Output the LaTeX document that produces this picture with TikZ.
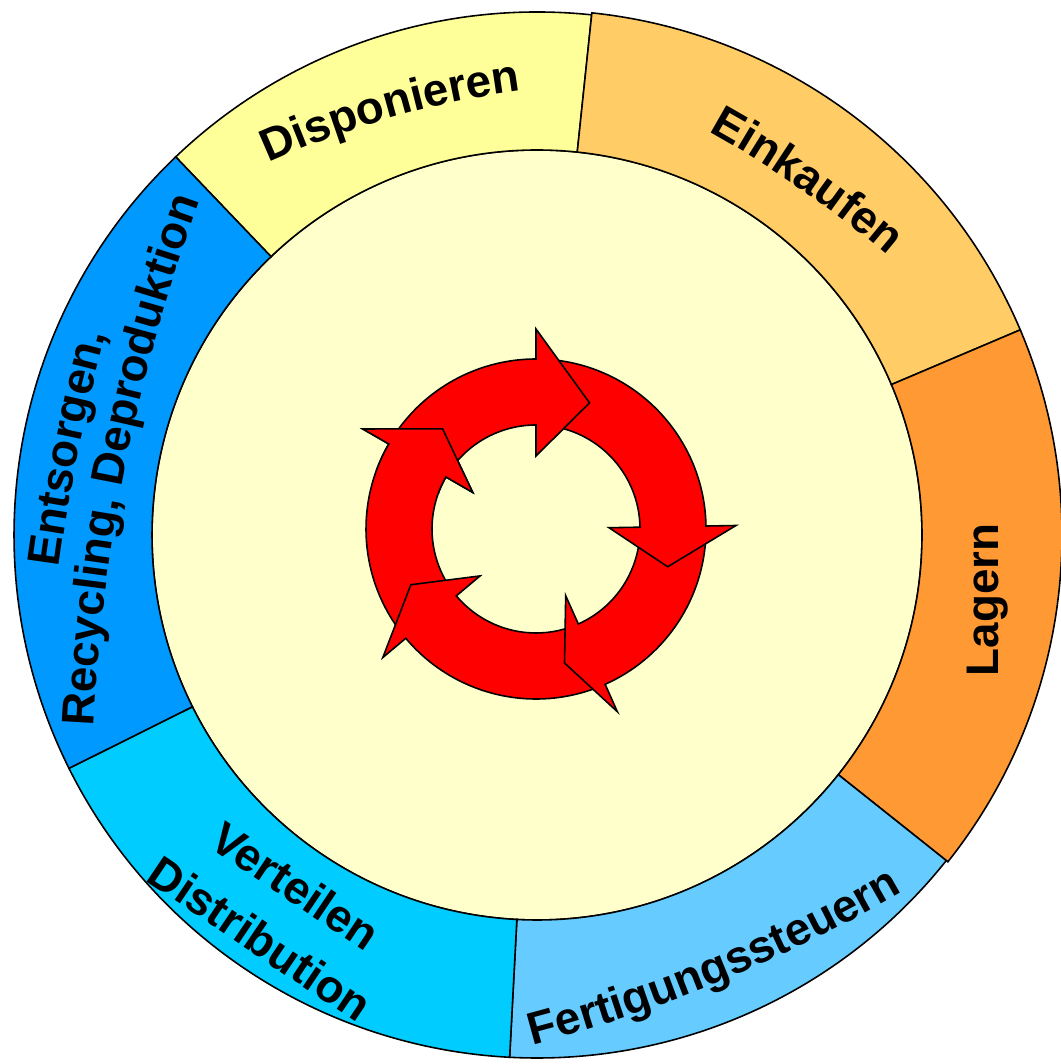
\documentclass[tikz,border=0pt]{standalone}
\usepackage{fontspec}
\setmainfont{Liberation Sans}
\usetikzlibrary{decorations.text,calc}
\definecolor{DispoYellow}{HTML}{FFFF99}
\definecolor{KaufOrange}{HTML}{FFCC66}
\definecolor{LagerOrange}{HTML}{FF9933}
\definecolor{FertBlue}{HTML}{66CCFF}
\definecolor{VertCyan}{HTML}{00CCFF}
\definecolor{EntsBlue}{HTML}{0099FF}
\definecolor{CoreCream}{HTML}{FFFFCC}
\definecolor{CycleRed}{HTML}{FF0000}
\newcommand{\ringfont}{\bfseries\fontsize{13}{15}\selectfont}
\tikzset{
  ringpart/.style={draw=black, line width=0.45pt},
  cyclearrow/.style={fill=CycleRed, draw=black, line width=0.45pt},
  arctext/.style={decorate, decoration={text along path, text align=center, text={#1}}},
  flatlabel/.style={font=\bfseries\fontsize{13}{18}\selectfont, align=center, inner sep=0pt}
}

\begin{document}
\begin{tikzpicture}[x=0.01cm,y=0.01cm]
\useasboundingbox (0,0) rectangle (1061,1064);
\fill[white] (0,0) rectangle (1061,1064);
% ring of six phases
\begin{scope}[shift={(537,529)}]
\filldraw[ringpart, fill=CoreCream] (0,0) circle[radius=385];
\filldraw[ringpart, fill=DispoYellow] (84:385) arc[start angle=84, end angle=133.7, radius=385] -- (133.7:523) arc[start angle=133.7, end angle=84, radius=523] -- cycle;
\filldraw[ringpart, fill=KaufOrange] (23:385) arc[start angle=23, end angle=84, radius=385] -- (84:525) arc[start angle=84, end angle=23, radius=525] -- cycle;
\filldraw[ringpart, fill=LagerOrange] (-38.5:385) arc[start angle=-38.5, end angle=23, radius=385] -- (23:525) arc[start angle=23, end angle=-38.5, radius=525] -- cycle;
\filldraw[ringpart, fill=FertBlue] (-93:385) arc[start angle=-93, end angle=-38.5, radius=385] -- (-38.5:523) arc[start angle=-38.5, end angle=-93, radius=523] -- cycle;
\filldraw[ringpart, fill=VertCyan] (206.5:385) arc[start angle=206.5, end angle=267, radius=385] -- (267:523) arc[start angle=267, end angle=206.5, radius=523] -- cycle;
\filldraw[ringpart, fill=EntsBlue] (133.7:385) arc[start angle=133.7, end angle=206.5, radius=385] -- (206.5:523) arc[start angle=206.5, end angle=133.7, radius=523] -- cycle;
\end{scope}
% red cycle arrows, each head over the next tail
\begin{scope}[shift={(536,535)}]
\filldraw[cyclearrow] (215:170) arc[start angle=215, end angle=150, radius=170] -- (150:200) -- (133:137) -- (150:73) -- (150:104) arc[start angle=150, end angle=215, radius=104] -- cycle;
\filldraw[cyclearrow] (-70:170) arc[start angle=-70, end angle=-140, radius=170] -- (-140:200) -- (-156:137) -- (-140:73) -- (-140:104) arc[start angle=-140, end angle=-70, radius=104] -- cycle;
\filldraw[cyclearrow] (-4:170) arc[start angle=-4, end angle=-66, radius=170] -- (-66:200) -- (-78:137) -- (-66:73) -- (-66:104) arc[start angle=-66, end angle=-4, radius=104] -- cycle;
\filldraw[cyclearrow] (82:170) arc[start angle=82, end angle=1, radius=170] -- (1:200) -- (-16:137) -- (1:73) -- (1:104) arc[start angle=1, end angle=82, radius=104] -- cycle;
\filldraw[cyclearrow] (145:170) arc[start angle=145, end angle=90, radius=170] -- (90:200) -- (67:137) -- (90:73) -- (90:104) arc[start angle=90, end angle=145, radius=104] -- cycle;
\begin{scope}
\clip (0,0) -- (160:260) arc[start angle=160, end angle=120, radius=260] -- cycle;
\filldraw[cyclearrow] (215:170) arc[start angle=215, end angle=150, radius=170] -- (150:200) -- (133:137) -- (150:73) -- (150:104) arc[start angle=150, end angle=215, radius=104] -- cycle;
\end{scope}
\end{scope}
% labels
\path[arctext={|\ringfont|Disponieren}] ($(640.2,81.4)+(120:900)$) arc[start angle=120, end angle=92, radius=900];
\path[arctext={|\ringfont|Einkaufen}] ($(175.2,-29.6)+(67.3:1100)$) arc[start angle=67.3, end angle=43.3, radius=1100];
\node[flatlabel, rotate=90] (lagern) at (988,464) {Lagern};
\path[arctext={|\ringfont|Fertigungssteuern}] ($(148.7,1468.9)+(-78.5:1500)$) arc[start angle=-78.5, end angle=-56.5, radius=1500];
\node[flatlabel, rotate=-34] (verteilen) at (278,152) {Verteilen\\Distribution};
\path[arctext={|\ringfont|Entsorgen,}] ($(1891.2,248.4)+(181.6:1849)$) arc[start angle=181.6, end angle=155.6, radius=1849];
\path[arctext={|\ringfont|Recycling, Deproduktion}] ($(1891.2,248.4)+(181.6:1800)$) arc[start angle=181.6, end angle=155.6, radius=1800];
\end{tikzpicture}
\end{document}
